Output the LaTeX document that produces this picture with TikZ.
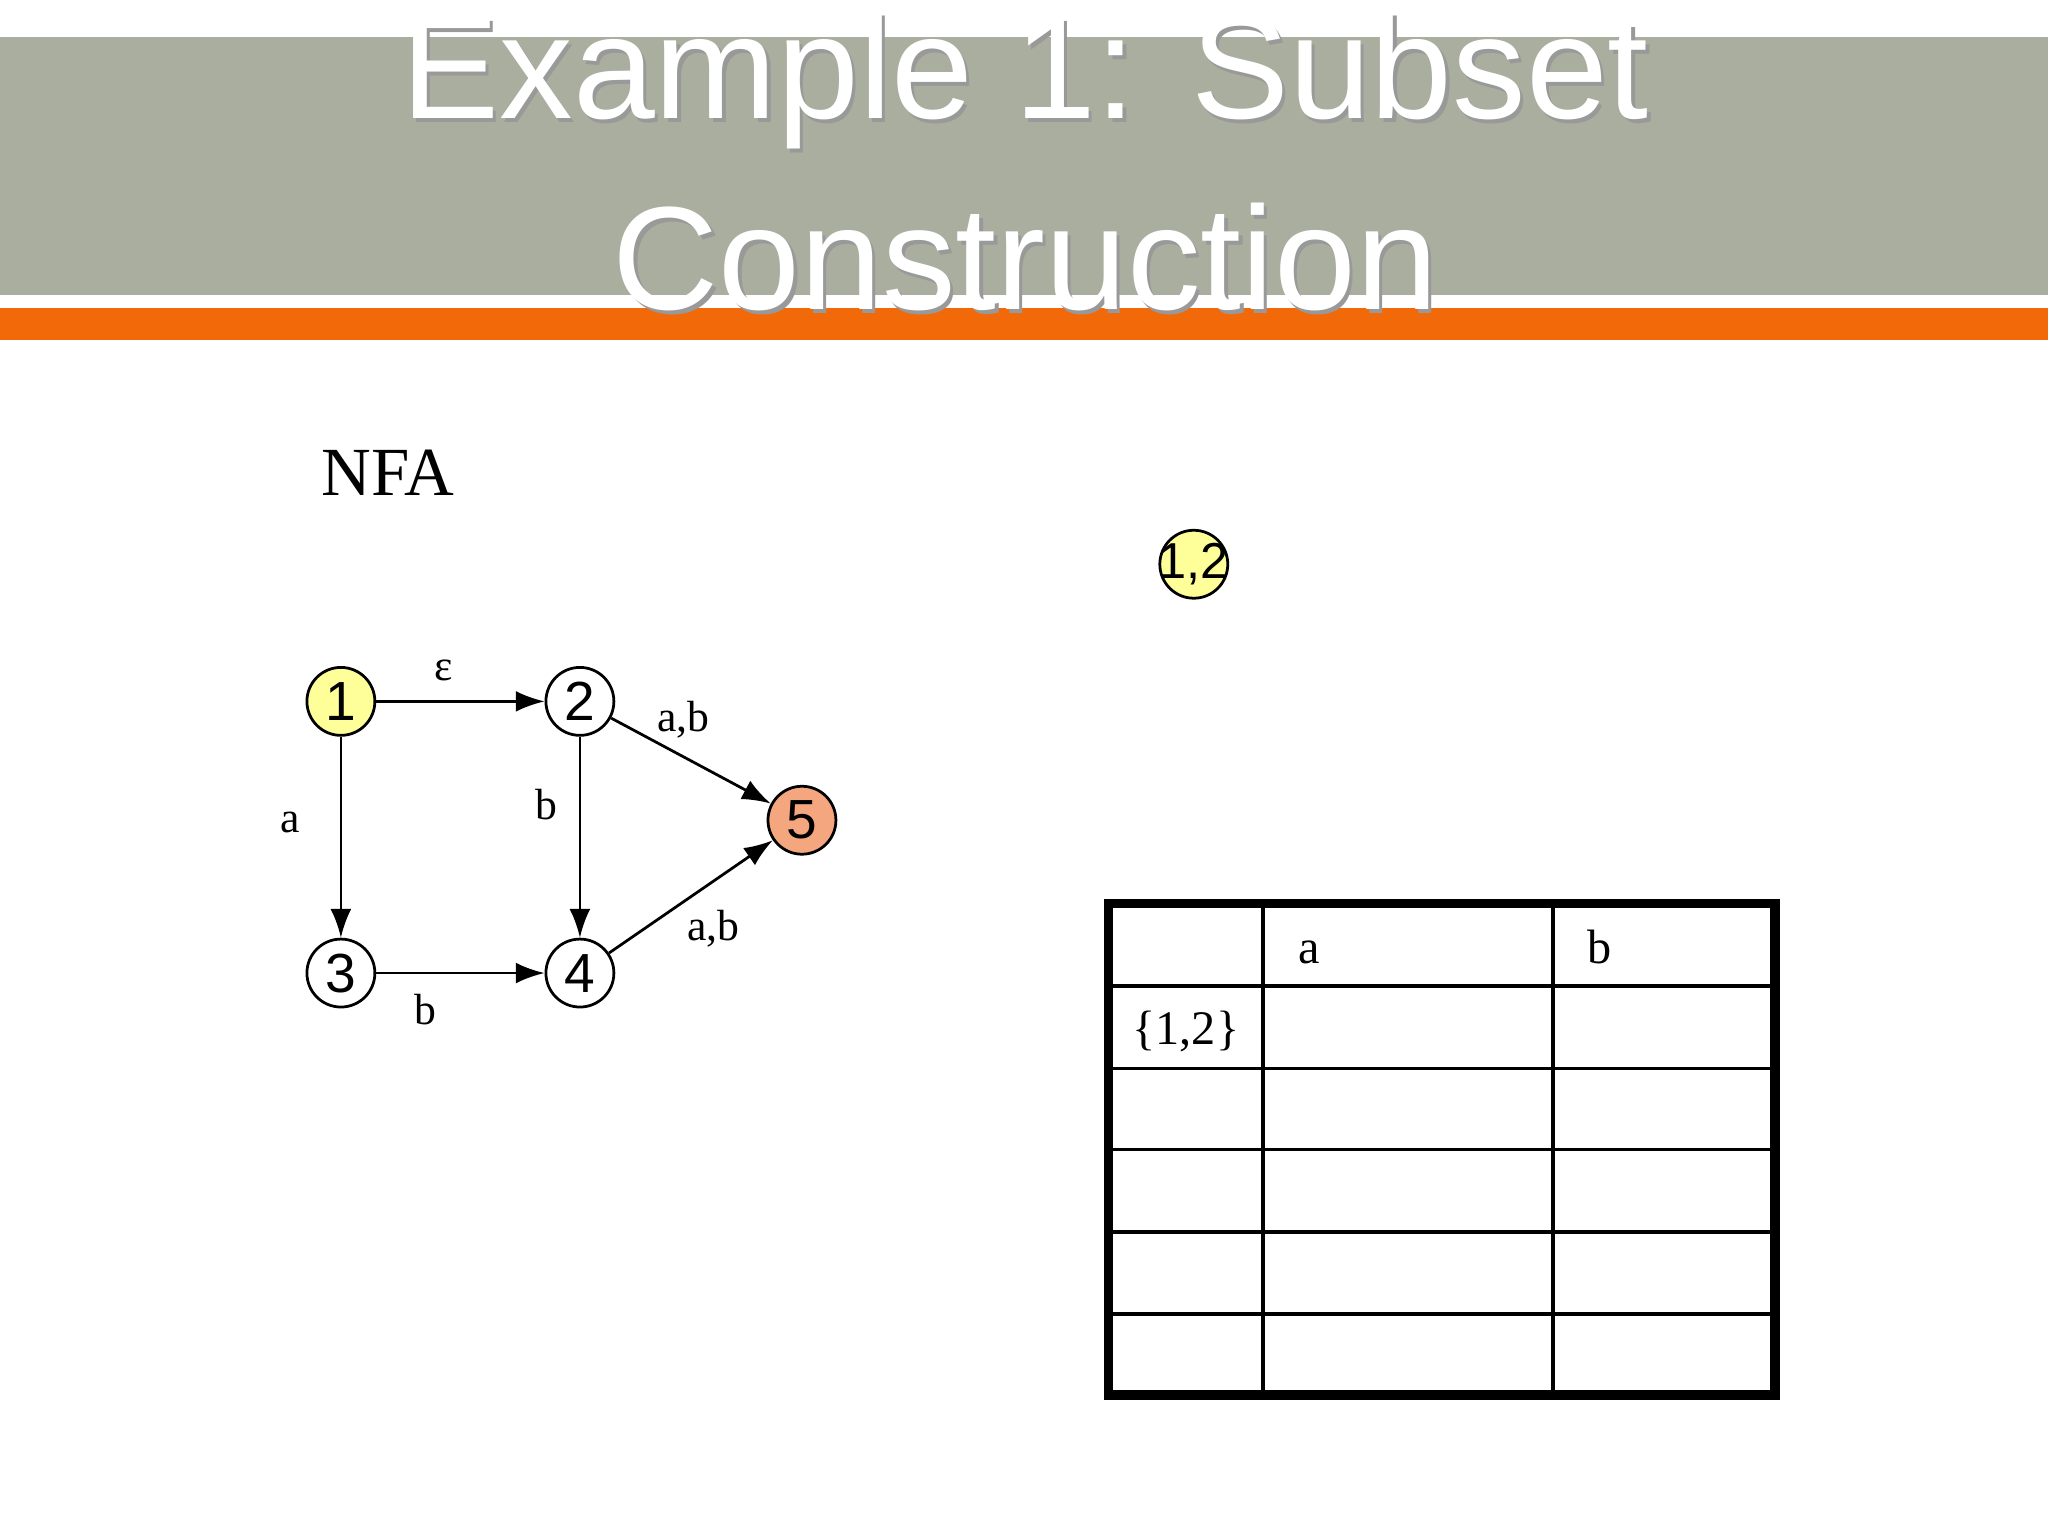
\documentclass[tikz,border=0pt]{standalone}
\usepackage{fontspec}
\setmainfont{Liberation Serif}
\setsansfont{Liberation Sans}
\usetikzlibrary{arrows.meta}
\definecolor{band}{HTML}{A9AE9F}
\definecolor{orng}{HTML}{F2690A}
\definecolor{yel}{HTML}{FFFF99}
\definecolor{sal}{HTML}{F4A77E}
\begin{document}
\begin{tikzpicture}[x=0.01cm,y=-0.01cm,
  st/.style={circle,draw,line width=0.6pt,minimum size=0.52cm,inner sep=0pt,font=\sffamily\fontsize{12}{12}\selectfont},
  lbl/.style={font=\fontsize{9.5}{10}\selectfont},
  tr/.style={-{Latex[length=2.2mm,width=1.6mm]},line width=0.6pt},
  tl/.style={font=\fontsize{10.5}{11}\selectfont}]
\useasboundingbox (0,0) rectangle (1568,1176);
\fill[band] (0,28) rectangle (1568,226);
\fill[orng] (0,236) rectangle (1568,260);
\foreach \t/\y in {{Example 1: Subset}/62,{Construction}/197}{
  \node[text=black!40,font=\sffamily\fontsize{32}{32}\selectfont] at (787.5,\y+2.5) {\t};
  \node[text=white,font=\sffamily\fontsize{32}{32}\selectfont] (t\y) at (785,\y) {\t};}
\node[font=\fontsize{15}{15}\selectfont] (nfa) at (297,362) {NFA};
\node[st,fill=yel] (n1) at (261,537) {1};
\node[st] (n2) at (444,537) {2};
\node[st] (n3) at (261,745) {3};
\node[st] (n4) at (444,745) {4};
\node[st,fill=sal] (n5) at (614,628) {5};
\draw[tr] (n1)--(n2); \draw[tr] (n1)--(n3); \draw[tr] (n2)--(n4);
\draw[tr] (n3)--(n4); \draw[tr] (n2)--(n5); \draw[tr] (n4)--(n5);
\node[lbl] (l1) at (340,513) {ε};
\node[lbl] (l2) at (222,630) {a};
\node[lbl] (l3) at (418,616) {b};
\node[lbl] (l4) at (523,551) {a,b};
\node[lbl] (l5) at (326,773) {b};
\node[lbl] (l6) at (546,711) {a,b};
\node[st,fill=yel] (d12) at (914,432) {};
\node[font=\sffamily\fontsize{11}{11}\selectfont,inner sep=0pt] (d12t) at (d12) {1,2};
\foreach \y in {755,818,880,943,1006} \draw[line width=0.8pt] (849,\y)--(1359,\y);
\draw[line width=0.8pt] (967,692)--(967,1068) (1189,692)--(1189,1068);
\draw[line width=2pt] (849,692) rectangle (1359,1068);
\node[tl,anchor=base west] (ta) at (982,738) {a};
\node[tl,anchor=base west] (tb) at (1203,738) {b};
\node[tl] (t12) at (908,790) {\{1,2\}};
\end{tikzpicture}
\end{document}
